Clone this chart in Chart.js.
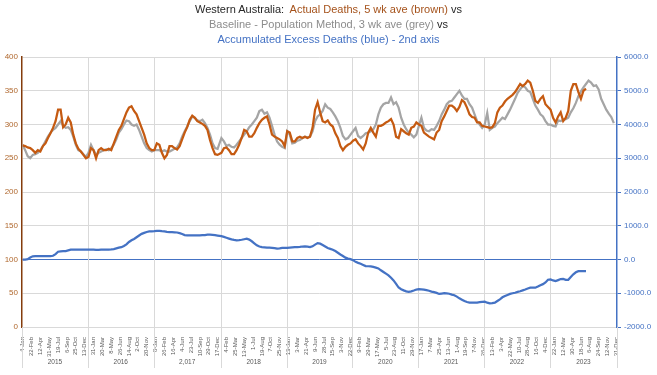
<!DOCTYPE html>
<html>
<head>
<meta charset="utf-8">
<script src="https://cdn.jsdelivr.net/npm/chart.js@4"></script>
<style>
  body { margin: 0; background: #fff; }
  #wrap { position: relative; width: 657px; height: 375px; }
  #title { position: absolute; top: 2px; left: 0; width: 657px; text-align: center;
    font: 11px 'Liberation Sans', Arial, sans-serif; line-height: 15px; color: #262626; }
  canvas { position: absolute; left: 0; top: 0; }
</style>
</head>
<body>
<div id="wrap">
  <canvas id="grafico" width="657" height="375"></canvas>
  <div id="title">
    <div>Western Australia:&nbsp; <span style="color:#A5521B">Actual Deaths, 5 wk ave (brown)</span> vs</div>
    <div><span style="color:#8C8C8C">Baseline - Population Method, 3 wk ave (grey)</span> vs</div>
    <div><span style="color:#4472C4">Accumulated Excess Deaths (blue) - 2nd axis</span></div>
  </div>
</div>
<script>
// years shown under the axis, and the week index where each one starts
var years = ['2015', '2016', '2,017', '2018', '2019', '2020', '2021', '2022', '2023'];
var yearStarts = [0, 52, 104, 157, 209, 261, 313, 365, 417, 470];

// week tick labels (every 7th week)
var tickLabels = [
	'4-Jan', '22-Feb', '12-Apr', '31-May', '19-Jul', '6-Sep', '25-Oct', '13-Dec',
	'31-Jan', '20-Mar', '8-May', '26-Jun', '14-Aug', '2-Oct', '20-Nov',
	'8-Jan', '26-Feb', '16-Apr', '4-Jun', '23-Jul', '10-Sep', '29-Oct', '17-Dec',
	'4-Feb', '25-Mar', '13-May', '1-Jul', '19-Aug', '7-Oct', '25-Nov',
	'13-Jan', '3-Mar', '21-Apr', '9-Jun', '28-Jul', '15-Sep', '3-Nov', '22-Dec',
	'9-Feb', '29-Mar', '17-May', '5-Jul', '23-Aug', '11-Oct', '29-Nov',
	'17-Jan', '7-Mar', '25-Apr', '13-Jun', '1-Aug', '19-Sep', '7-Nov', '26-Dec',
	'13-Feb', '3-Apr', '22-May', '10-Jul', '28-Aug', '16-Oct', '4-Dec',
	'22-Jan', '12-Mar', '30-Apr', '18-Jun', '6-Aug', '24-Sep', '12-Nov', '31-Dec'
];

// fortnightly readings, 26 per year
var actualDeaths = [
	269, 268, 266, 265, 262, 258, 262, 260, 268, 272, 280, 287, 295, 305, 322, 322, 296, 300, 310, 303, 285, 272, 264, 260, 255, 250,
	252, 265, 262, 250, 262, 265, 262, 262, 264, 262, 272, 282, 292, 298, 308, 318, 325, 327, 320, 315, 305, 295, 285, 272, 265, 262,
	262, 272, 270, 258, 250, 255, 268, 268, 265, 263, 268, 278, 288, 296, 307, 313, 310, 305, 303, 301, 298, 292, 277, 265, 256, 255,
	258, 265, 266, 262, 256, 256, 262, 270, 280, 292, 290, 282, 282, 287, 295, 302, 307, 310, 312, 300, 285, 282, 280, 278, 275, 268,
	290, 288, 275, 275, 280, 282, 280, 282, 280, 282, 295, 322, 333, 318, 305, 303, 306, 300, 297, 287, 280, 268, 262, 267, 270, 272,
	276, 278, 272, 268, 263, 272, 288, 295, 288, 282, 298, 298, 300, 303, 305, 308, 300, 282, 280, 293, 290, 287, 285, 295, 297, 303,
	300, 298, 288, 285, 282, 280, 278, 288, 292, 305, 312, 320, 328, 328, 325, 320, 326, 336, 333, 325, 315, 311, 310, 303, 303, 298,
	297, 296, 295, 296, 302, 318, 325, 328, 334, 338, 341, 344, 348, 354, 360, 357, 360, 365, 362, 350, 335, 332, 338, 342, 330, 326,
	322, 310, 303, 312, 318, 305, 310, 320, 350, 360, 360, 348, 338, 350, 353, null, null, null, null, null, null, null, null, null, null, null
];
var baseline = [
	270, 262, 253, 250, 255, 256, 258, 262, 268, 275, 282, 288, 292, 295, 300, 305, 298, 295, 296, 292, 282, 270, 262, 260, 256, 252,
	258, 270, 262, 255, 258, 260, 262, 263, 262, 265, 270, 278, 288, 293, 300, 306, 305, 300, 298, 300, 292, 282, 272, 265, 262, 260,
	262, 262, 262, 260, 262, 260, 260, 262, 264, 266, 272, 282, 290, 297, 305, 312, 310, 306, 305, 307, 302, 295, 285, 272, 265, 264,
	280, 275, 268, 270, 267, 266, 270, 275, 280, 285, 290, 296, 300, 305, 310, 320, 322, 316, 318, 310, 298, 285, 275, 270, 267, 265,
	290, 285, 272, 273, 276, 277, 280, 282, 281, 282, 290, 305, 312, 315, 320, 330, 325, 323, 318, 312, 305, 295, 283, 278, 280, 285,
	290, 295, 283, 280, 283, 287, 288, 290, 293, 300, 315, 325, 330, 332, 332, 340, 330, 333, 325, 310, 300, 293, 288, 285, 281, 285,
	298, 310, 295, 291, 290, 293, 292, 298, 305, 315, 322, 330, 334, 335, 340, 345, 350, 343, 338, 338, 330, 325, 315, 305, 300, 295,
	300, 317, 292, 295, 297, 302, 306, 310, 308, 315, 322, 330, 338, 347, 352, 357, 355, 350, 348, 338, 328, 322, 315, 312, 305, 300,
	300, 298, 297, 306, 305, 307, 308, 310, 318, 324, 332, 342, 349, 355, 360, 365, 362, 357, 358, 352, 338, 330, 322, 316, 311, 302
];
var excessDeaths = [
	0, 0, 10, 60, 95, 100, 100, 100, 100, 100, 100, 100, 110, 160, 230, 240, 245, 250, 270, 290, 295, 295, 295, 295, 295, 295,
	295, 295, 290, 285, 285, 290, 295, 295, 295, 300, 310, 330, 350, 365, 400, 450, 520, 570, 610, 660, 710, 760, 790, 815, 830, 835,
	840, 850, 848, 838, 830, 818, 812, 808, 805, 800, 780, 755, 725, 715, 715, 715, 715, 715, 715, 720, 725, 735, 735, 730, 725, 710,
	690, 670, 645, 620, 595, 580, 570, 575, 585, 600, 615, 590, 540, 480, 420, 385, 370, 362, 355, 350, 345, 335, 320, 330, 342, 345,
	345, 352, 358, 365, 370, 375, 385, 390, 380, 365, 390, 440, 485, 470, 430, 385, 340, 315, 290, 250, 200, 150, 105, 55, 25, 10,
	-20, -70, -100, -125, -160, -195, -200, -205, -220, -240, -265, -320, -370, -420, -470, -540, -620, -720, -830, -880, -915, -945, -960, -945, -920, -890,
	-880, -885, -895, -910, -925, -950, -965, -990, -1020, -1010, -1000, -1005, -1015, -1040, -1060, -1100, -1150, -1190, -1230, -1260, -1275, -1280, -1280, -1275, -1265, -1255,
	-1250, -1280, -1300, -1295, -1280, -1230, -1180, -1120, -1080, -1050, -1020, -1000, -985, -960, -940, -915, -890, -860, -835, -830, -835, -800, -760, -730, -680, -600,
	-590, -620, -640, -610, -580, -575, -600, -600, -520, -440, -380, -345, -345, -345, -345, null, null, null, null, null, null, null, null, null, null, null
];

function semanal(arr) {
	return arr.map(function (v, j) {
		return { x: yearStarts[Math.floor(j / 26)] + 2 * (j % 26), y: v };
	});
}

var tickWeeks = tickLabels.map(function (l, i) { return i * 7; });

var anosPlugin = {
	id: 'anos',
	beforeDatasetsDraw: function (chart) {
		var ctx = chart.ctx, xs = chart.scales.x, area = chart.chartArea;
		ctx.save();
		ctx.strokeStyle = '#D9D9D9';
		ctx.lineWidth = 1;
		yearStarts.forEach(function (w, i) {
			if (i == 0 || i == yearStarts.length - 1) return;
			var px = Math.round(xs.getPixelForValue(w - 0.5)) + 0.5;
			ctx.beginPath();
			ctx.moveTo(px, area.top);
			ctx.lineTo(px, area.bottom);
			ctx.stroke();
		});
		ctx.restore();
	},
	afterDraw: function (chart) {
		var ctx = chart.ctx, xs = chart.scales.x, area = chart.chartArea;
		ctx.save();
		ctx.strokeStyle = '#D9D9D9';
		ctx.lineWidth = 1;
		yearStarts.forEach(function (w) {
			var px = Math.round(xs.getPixelForValue(w - 0.5)) + 0.5;
			ctx.beginPath();
			ctx.moveTo(px, area.bottom);
			ctx.lineTo(px, 368);
			ctx.stroke();
		});
		ctx.fillStyle = '#595959';
		ctx.font = "6.5px 'Liberation Sans', Arial, sans-serif";
		ctx.textAlign = 'center';
		ctx.textBaseline = 'middle';
		years.forEach(function (a, i) {
			var mid = (xs.getPixelForValue(yearStarts[i] - 0.5) + xs.getPixelForValue(yearStarts[i + 1] - 0.5)) / 2;
			ctx.fillText(a, mid, 362);
		});
		ctx.restore();
	}
};

Chart.defaults.font.family = "'Liberation Sans', Arial, sans-serif";

var config = {
	type: 'line',
	data: {
		datasets: [
			{
				label: 'Actual Deaths, 5 wk ave',
				data: semanal(actualDeaths),
				borderColor: '#C55A11',
				borderWidth: 2.25,
				pointRadius: 0,
				yAxisID: 'y',
				order: 1
			},
			{
				label: 'Baseline - Population Method, 3 wk ave',
				data: semanal(baseline),
				borderColor: '#A5A5A5',
				borderWidth: 2.25,
				pointRadius: 0,
				yAxisID: 'y',
				order: 2
			},
			{
				label: 'Accumulated Excess Deaths',
				data: semanal(excessDeaths),
				borderColor: '#4472C4',
				borderWidth: 2.25,
				pointRadius: 0,
				yAxisID: 'y2',
				order: 0
			}
		]
	},
	options: {
		responsive: false,
		animation: false,
		layout: { padding: { top: 57, left: 0, right: 0, bottom: 0 } },
		plugins: {
			legend: { display: false },
			title: { display: false },
			tooltip: { enabled: false }
		},
		scales: {
			x: {
				type: 'linear',
				min: -0.5,
				max: 469.5,
				afterBuildTicks: function (s) {
					s.ticks = tickWeeks.map(function (v) { return { value: v }; });
				},
				afterFit: function (s) { s.height = 48; },
				ticks: {
					autoSkip: false,
					maxRotation: 90,
					minRotation: 90,
					padding: 2,
					color: '#595959',
					font: { size: 6 },
					callback: function (v, i) { return tickLabels[i]; }
				},
				grid: { display: false },
				border: { display: true, color: '#D9D9D9' }
			},
			y: {
				position: 'left',
				min: 0,
				max: 400,
				afterFit: function (s) { s.width = 22; },
				ticks: { stepSize: 50, color: '#B0682E', font: { size: 8 }, padding: 4 },
				grid: {
					drawTicks: false,
					color: function (c) { return c.tick && c.tick.value === 100 ? '#4472C4' : '#D9D9D9'; }
				},
				border: { color: '#843C0C', width: 1.5 }
			},
			y2: {
				position: 'right',
				min: -2000,
				max: 6000,
				afterFit: function (s) { s.width = 40; },
				ticks: {
					stepSize: 1000,
					color: '#4472C4',
					font: { size: 8 },
					padding: 3,
					callback: function (v) { return v.toFixed(1); }
				},
				grid: { drawOnChartArea: false, tickLength: 4, color: '#4472C4' },
				border: { color: '#4472C4', width: 1.5 }
			}
		}
	},
	plugins: [anosPlugin]
};

var ctx = document.getElementById('grafico').getContext('2d');
window.graficoWA = new Chart(ctx, config);
</script>
</body>
</html>
